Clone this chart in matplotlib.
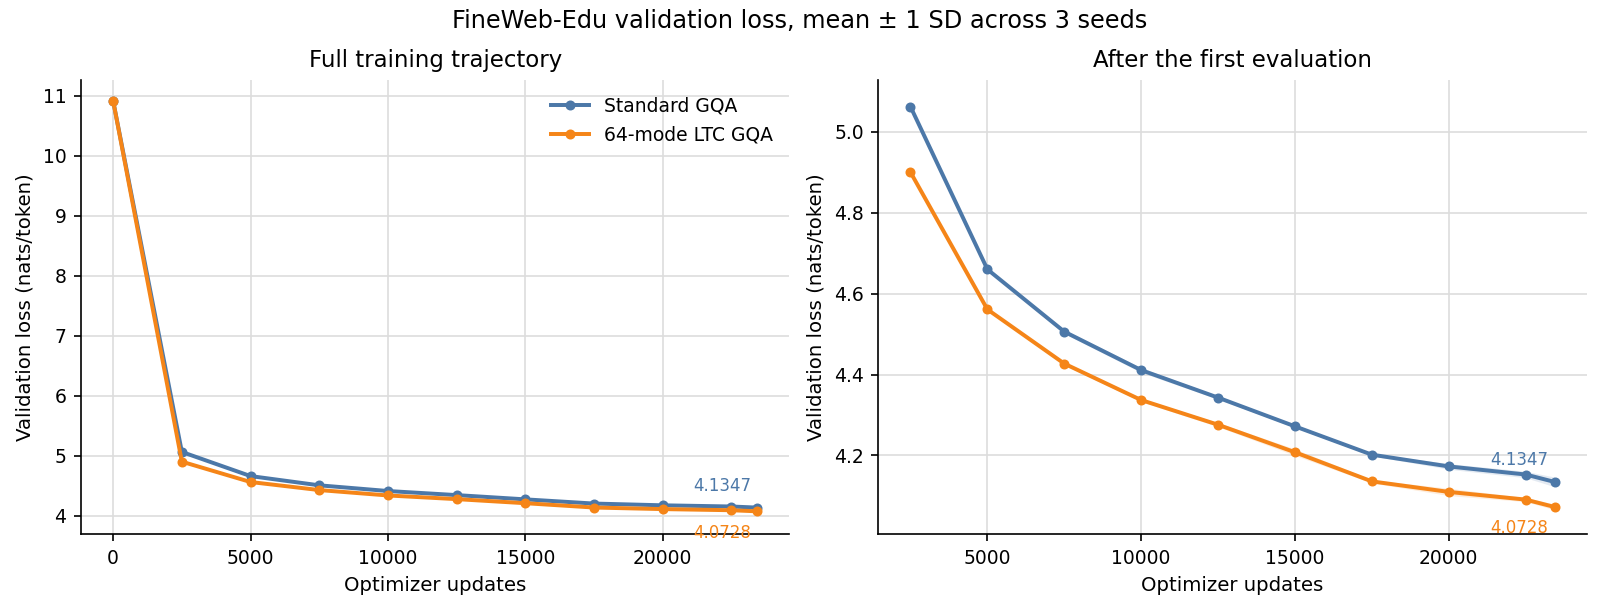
'''FineWeb-Edu validation loss: Standard GQA vs 64-mode LTC GQA'''

import numpy as np
import matplotlib
matplotlib.use('Agg')
import matplotlib.pyplot as plt

# evaluation steps (optimizer updates)
steps = np.array([0, 2500, 5000, 7500, 10000, 12500, 15000, 17500, 20000, 22500, 23438])

# mean validation loss across 3 seeds
std_mean = np.array([10.910, 5.062, 4.660, 4.506, 4.411, 4.343, 4.272, 4.202, 4.173, 4.153, 4.1347])
ltc_mean = np.array([10.910, 4.900, 4.561, 4.427, 4.337, 4.276, 4.208, 4.136, 4.110, 4.091, 4.0728])

# 1 SD across seeds
std_sd = np.array([0.001, 0.002, 0.003, 0.005, 0.006, 0.004, 0.003, 0.003, 0.007, 0.008, 0.012])
ltc_sd = np.array([0.001, 0.002, 0.003, 0.004, 0.004, 0.005, 0.008, 0.004, 0.009, 0.005, 0.007])

series = [
    ('Standard GQA', std_mean, std_sd, '#4c78a8'),
    ('64-mode LTC GQA', ltc_mean, ltc_sd, '#f58518'),
]


def draw_panel(ax, start, title, legend=False):
    '''Plot mean lines with SD bands from index start onward'''
    for name, mean, sd, color in series:
        x = steps[start:]
        m = mean[start:]
        s = sd[start:]
        ax.fill_between(x, m - s, m + s, color=color, alpha=0.15, linewidth=0)
        ax.plot(x, m, color=color, lw=1.9, marker='o', markersize=3.8, label=name)

    # final values, blue above and orange below the last point
    ax.annotate(f'{std_mean[-1]:.4f}', (steps[-1], std_mean[-1]), xytext=(-3, 6),
                textcoords='offset points', ha='right', va='bottom',
                color=series[0][3], fontsize=8)
    ax.annotate(f'{ltc_mean[-1]:.4f}', (steps[-1], ltc_mean[-1]), xytext=(-3, -6),
                textcoords='offset points', ha='right', va='top',
                color=series[1][3], fontsize=8)

    ax.set_title(title, fontsize=11)
    ax.set_xlabel('Optimizer updates', fontsize=9.5)
    ax.set_ylabel('Validation loss (nats/token)', fontsize=9.5)
    ax.tick_params(labelsize=9)
    ax.grid(True, color='#dddddd', lw=0.8)
    ax.set_axisbelow(True)
    ax.spines['top'].set_visible(False)
    ax.spines['right'].set_visible(False)
    if legend:
        ax.legend(loc='upper right', frameon=False, fontsize=9)


fig, axs = plt.subplots(1, 2, figsize=(1600/150, 610/150), dpi=150)
fig.subplots_adjust(left=0.0506, right=0.9917, bottom=0.1246, top=0.8689, wspace=0.1255)

draw_panel(axs[0], 0, 'Full training trajectory', legend=True)
axs[0].set_ylim(3.695, 11.26)

draw_panel(axs[1], 1, 'After the first evaluation')
axs[1].set_ylim(4.006, 5.128)

fig.suptitle('FineWeb-Edu validation loss, mean \u00b1 1 SD across 3 seeds', fontsize=11.5, y=0.985)

fig.savefig('out.png', dpi=150)
